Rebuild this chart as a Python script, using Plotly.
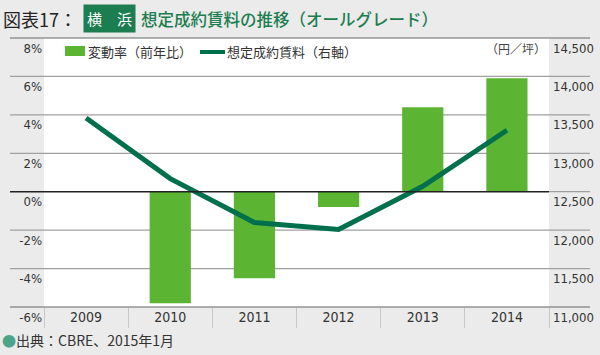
import plotly.graph_objects as go

years = ["2009", "2010", "2011", "2012", "2013", "2014"]
change_pct = [None, -5.8, -4.5, -0.8, 4.4, 5.9]
rent = [13460, 12670, 12100, 12010, 12570, 13300]
left_ticks = [-6, -4, -2, 0, 2, 4, 6, 8]
right_ticks = [11000, 11500, 12000, 12500, 13000, 13500, 14000, 14500]

W, H = 600, 355
L, R, T, B = 44, 549, 38, 307

BAR_COLOR = "#5cb532"
LINE_COLOR = "#006f4c"
TITLE_GREEN = "#1c7d50"


def px(x):
    return (x - L) / (R - L)


def py(y):
    return (B - y) / (B - T)


NARROW = "DejaVu Sans Condensed, Liberation Sans Narrow, sans-serif"
JP = "Noto Sans CJK JP, sans-serif"

fig = go.Figure()
fig.add_trace(go.Bar(
    x=years, y=change_pct, name="変動率（前年比）",
    marker=dict(color=BAR_COLOR, line=dict(width=0)), width=0.49,
))
fig.add_trace(go.Scatter(
    x=years, y=rent, name="想定成約賃料（右軸）", yaxis="y2", mode="lines",
    line=dict(color=LINE_COLOR, width=5),
))

shapes = []
for v in left_ticks:
    col = "#666666" if v in (8, -6) else "#a0a0a0"
    yy = (v + 6) / 14
    if v == 0:
        shapes.append(dict(type="line", xref="paper", yref="paper", x0=px(10), x1=px(549),
                           y0=yy, y1=yy, line=dict(color="#222222", width=1.5), layer="above"))
        shapes.append(dict(type="line", xref="paper", yref="paper", x0=px(549), x1=px(590),
                           y0=yy, y1=yy, line=dict(color=col, width=1.2), layer="above"))
    else:
        shapes.append(dict(type="line", xref="paper", yref="paper", x0=px(10), x1=px(590),
                           y0=yy, y1=yy, line=dict(color=col, width=1.2), layer="below"))

# custom legend swatches
shapes.append(dict(type="rect", xref="paper", yref="paper", x0=px(65), x1=px(85),
                   y0=py(56), y1=py(46), fillcolor=BAR_COLOR, line=dict(width=0)))
shapes.append(dict(type="line", xref="paper", yref="paper", x0=px(200), x1=px(225),
                   y0=py(52), y1=py(52), line=dict(color=LINE_COLOR, width=4)))

fig.update_layout(
    width=W, height=H,
    margin=dict(l=L, r=W - R, t=T, b=H - B, pad=0, autoexpand=False),
    paper_bgcolor="#ebebeb", plot_bgcolor="#ffffff",
    showlegend=False,
    xaxis=dict(type="category", range=[-0.5, 5.5], showgrid=False, zeroline=False,
               showline=False, ticks="outside", tickson="boundaries", ticklen=20,
               tickcolor="#c8c8c8", tickwidth=1, automargin=False,
               tickfont=dict(family=NARROW, size=14, color="#333333")),
    yaxis=dict(range=[-6, 8], tickvals=left_ticks, ticktext=[f"{v}%" for v in left_ticks],
               showgrid=False, zeroline=False, showline=False, ticks="", automargin=False,
               ticklabelshift=10, ticklabelstandoff=1,
               tickfont=dict(family=NARROW, size=13, color="#333333")),
    yaxis2=dict(range=[11000, 14500], overlaying="y", side="right", tickvals=right_ticks,
                ticktext=[f"{v:,}" for v in right_ticks], showgrid=False, zeroline=False,
                showline=False, ticks="", ticklabelstandoff=3, automargin=False,
                ticklabelshift=10,
                tickfont=dict(family=NARROW, size=13, color="#333333")),
    shapes=shapes,
)

ann = [
    dict(text="図表17：", x=px(1), y=py(19), xanchor="left", yanchor="middle",
         font=dict(family=JP, size=18, color="#222222")),
    dict(text="横　浜", x=px(83), y=py(18.5), xanchor="left", yanchor="middle",
         font=dict(family=JP, size=15, color="#ffffff"), bgcolor=TITLE_GREEN, borderpad=3),
    dict(text="想定成約賃料の推移（オールグレード）", x=px(139), y=py(19), xanchor="left",
         yanchor="middle", font=dict(family=JP, size=16.5, color=TITLE_GREEN, weight=500)),
    dict(text="変動率（前年比）", x=px(86), y=py(52), xanchor="left", yanchor="middle",
         font=dict(family=JP, size=13, color="#333333")),
    dict(text="想定成約賃料（右軸）", x=px(225), y=py(52), xanchor="left", yanchor="middle",
         font=dict(family=JP, size=13, color="#333333")),
    dict(text="（円／坪）", x=px(548), y=py(48), xanchor="right", yanchor="middle",
         font=dict(family=JP, size=12, color="#444444")),
    dict(text='<span style="color:#4ca58a">●</span>出典：CBRE、2015年1月', x=px(0), y=py(340),
         xanchor="left", yanchor="middle", font=dict(family=JP, size=14, color="#333333")),
]
for a in ann:
    a.update(xref="paper", yref="paper", showarrow=False)
fig.update_layout(annotations=ann)

fig.write_html("out.html", config={"displayModeBar": False},
               post_script="document.body.style.margin='0';document.body.style.padding='0';")
